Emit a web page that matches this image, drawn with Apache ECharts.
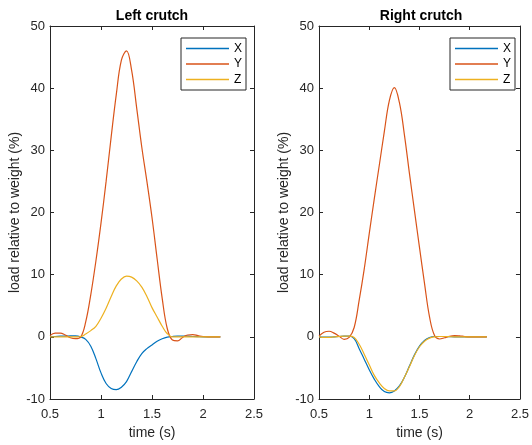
<!DOCTYPE html>
<html>
<head>
<meta charset="utf-8">
<script src="https://cdn.jsdelivr.net/npm/echarts@6/dist/echarts.min.js"></script>
<style>
    html, body { margin: 0; padding: 0; background: #fff; }
    #chart { width: 532px; height: 445px; }
</style>
</head>
<body>
<div id="chart"></div>
<script>
// sample times (s), shared by both crutches
const timeS = [0.50, 0.55, 0.60, 0.65, 0.70, 0.75, 0.80, 0.85, 0.90, 0.95,
    1.00, 1.05, 1.10, 1.15, 1.20, 1.25, 1.30, 1.35, 1.40, 1.45,
    1.50, 1.55, 1.60, 1.65, 1.70, 1.75, 1.80, 1.85, 1.90, 1.95,
    2.00, 2.05, 2.10, 2.17]

// left crutch, load relative to weight (%)
const leftX = [0.05, 0.05, 0.1, 0.1, 0.15, 0.15, 0.0, -0.4, -1.5, -3.5,
    -5.8, -7.5, -8.3, -8.5, -8.1, -7.2, -5.6, -4.0, -2.7, -1.9,
    -1.3, -0.7, -0.3, -0.05, 0.05, 0.1, 0.1, 0.1, 0.05, 0.02,
    0, 0, 0, 0]
const leftY = [0.2, 0.6, 0.6, 0.3, -0.15, -0.3, -0.05, 2.4, 6.8, 12.2,
    18.3, 25.0, 32.2, 39.0, 44.5, 46.0, 42.9, 36.8, 30.5, 25.0,
    19.2, 12.6, 6.2, 1.3, -0.5, -0.65, -0.1, 0.3, 0.35, 0.2,
    0.05, 0, 0, 0]
const leftZ = [0, 0, 0, 0, 0, 0, 0.05, 0.45, 1.0, 1.7,
    3.0, 4.6, 6.5, 8.2, 9.3, 9.75, 9.6, 9.0, 8.0, 6.5,
    4.7, 3.2, 1.7, 0.5, 0.0, 0, 0, 0, 0, 0,
    0, 0, 0, 0]

// right crutch
const rightX = [0.0, -0.05, -0.05, 0.0, 0.05, 0.1, 0.1, -0.3, -1.9, -3.6,
    -5.3, -6.8, -8.0, -8.8, -9.0, -8.7, -7.9, -6.5, -4.7, -2.9,
    -1.5, -0.6, -0.1, 0.05, 0.05, 0.05, 0.02, 0, 0, 0,
    0, 0, 0, 0]
const rightY = [0.1, 0.75, 0.9, 0.6, 0.1, -0.4, -0.1, 1.5, 5.9, 10.9,
    16.6, 22.2, 27.6, 33.0, 38.0, 40.1, 37.7, 32.5, 26.3, 20.3,
    14.4, 8.6, 3.2, 0.2, -0.35, -0.15, 0.1, 0.2, 0.15, 0.05,
    0, 0, 0, 0]
const rightZ = [0.0, -0.1, -0.1, 0.0, 0.05, 0.1, 0.1, -0.1, -1.2, -2.8,
    -4.5, -6.2, -7.4, -8.3, -8.7, -8.7, -8.0, -6.5, -4.8, -3.0,
    -1.6, -0.7, -0.2, 0.0, 0.05, 0.05, 0.02, 0, 0, 0,
    0, 0, 0, 0]

const xTicks = [0.5, 2.5, 0.5] // min, max, step
const yTicks = [-10, 50, 10]

const Colors = ['#0072BD', '#D95319', '#EDB120']
const FontFamily = 'Liberation Sans, Arial, Helvetica, sans-serif'
const AxisColor = '#262626'

const pairs = function (values) {
    return timeS.map((t, i) => [t, values[i]])
}

const XAxis = function (gridIndex, top) {
    this.gridIndex = gridIndex
    this.type = 'value'
    this.position = top ? 'top' : 'bottom'
    this.min = xTicks[0]
    this.max = xTicks[1]
    this.interval = xTicks[2]
    this.axisLine = {show: true, onZero: false, lineStyle: {color: AxisColor, width: 1}}
    this.axisTick = {show: true, inside: true, length: 4, lineStyle: {color: AxisColor}}
    this.axisLabel = {show: !top, color: AxisColor, fontSize: 13, fontFamily: FontFamily, margin: 9}
    this.splitLine = {show: false}
    if (!top) {
        this.name = 'time (s)'
        this.nameLocation = 'middle'
        this.nameGap = 27
        this.nameTextStyle = {color: AxisColor, fontSize: 14, fontFamily: FontFamily}
    }
}

const YAxis = function (gridIndex, right) {
    this.gridIndex = gridIndex
    this.type = 'value'
    this.position = right ? 'right' : 'left'
    this.min = yTicks[0]
    this.max = yTicks[1]
    this.interval = yTicks[2]
    this.axisLine = {show: true, onZero: false, lineStyle: {color: AxisColor, width: 1}}
    this.axisTick = {show: true, inside: true, length: 4, lineStyle: {color: AxisColor}}
    this.axisLabel = {show: !right, color: AxisColor, fontSize: 13, fontFamily: FontFamily, margin: 5}
    this.splitLine = {show: false}
    if (!right) {
        this.name = 'load relative to weight (%)'
        this.nameLocation = 'middle'
        this.nameGap = 21
        this.nameTextStyle = {color: AxisColor, fontSize: 14, fontFamily: FontFamily}
    }
}

const Title = function (text, center) {
    this.text = text
    this.left = center
    this.textAlign = 'center'
    this.top = 9
    this.padding = 0
    this.textStyle = {fontSize: 14, fontWeight: 'bold', color: '#000', fontFamily: FontFamily}
}

const Legend = function (left) {
    this.orient = 'vertical'
    this.left = left
    this.top = 38
    this.data = ['X', 'Y', 'Z']
    this.icon = 'rect'
    this.borderColor = AxisColor
    this.borderWidth = 1
    this.backgroundColor = '#fff'
    this.padding = [3, 4, 3, 5]
    this.itemWidth = 43
    this.itemHeight = 1.3
    this.itemGap = 0.5
    this.textStyle = {fontSize: 12, lineHeight: 15, color: '#000', fontFamily: FontFamily}
}

const Line = function (name, values, axisIndex, color) {
    this.name = name
    this.type = 'line'
    this.xAxisIndex = axisIndex
    this.yAxisIndex = axisIndex
    this.data = pairs(values)
    this.symbol = 'none'
    this.smooth = 0.4
    this.color = color
    this.itemStyle = {color: color}
    this.lineStyle = {width: 1.2, color: color}
    this.silent = true
}

let chart = echarts.init(document.getElementById('chart'), null, {renderer: 'canvas'})
chart.setOption({
    backgroundColor: '#fff',
    animation: false,
    title: [new Title('Left crutch', 152), new Title('Right crutch', 421)],
    legend: [new Legend(181), new Legend(450)],
    grid: [
        {left: 50, top: 26, width: 204, height: 373},
        {left: 319, top: 26, width: 204, height: 373}
    ],
    xAxis: [new XAxis(0, false), new XAxis(0, true), new XAxis(1, false), new XAxis(1, true)],
    yAxis: [new YAxis(0, false), new YAxis(0, true), new YAxis(1, false), new YAxis(1, true)],
    series: [
        new Line('X', leftX, 0, Colors[0]),
        new Line('Y', leftY, 0, Colors[1]),
        new Line('Z', leftZ, 0, Colors[2]),
        new Line('X', rightX, 2, Colors[0]),
        new Line('Y', rightY, 2, Colors[1]),
        new Line('Z', rightZ, 2, Colors[2])
    ]
})
</script>
</body>
</html>
